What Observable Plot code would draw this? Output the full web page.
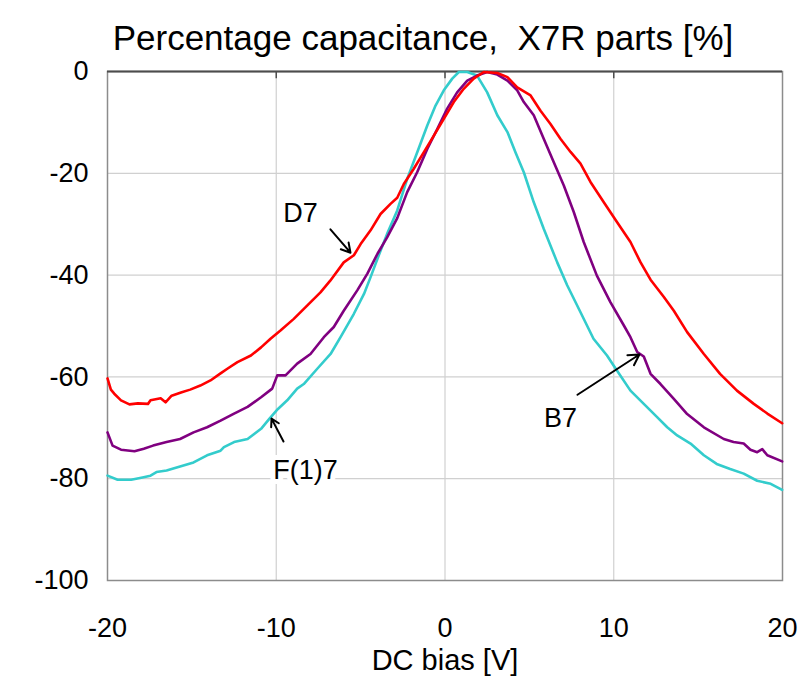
<!DOCTYPE html>
<html>
<head>
<meta charset="utf-8">
<script src="https://cdn.jsdelivr.net/npm/d3@7"></script>
<script src="https://cdn.jsdelivr.net/npm/@observablehq/plot@0.6"></script>
<style>
  html, body { margin: 0; padding: 0; background: white; }
</style>
</head>
<body>
<div id="chart"></div>
<script>
const titleText = "Percentage capacitance,  X7R parts [%]";
const xLabel = "DC bias [V]";
const xTicks = [-20, -10, 0, 10, 20];
const yTicks = [0, -20, -40, -60, -80, -100];

// D7 (red)
const d7X = [-20, -19.8, -19.6, -19.2, -18.7, -18.2, -17.6, -17.45, -16.85, -16.56, -16.2, -15.6, -15.1, -14.5, -13.9, -13.3, -12.9, -12.3, -11.5, -10.9, -10.34, -9.75, -8.96, -8.17, -7.38, -6.8, -6.0, -5.4, -5.0, -4.41, -3.82, -3.23, -2.83, -2.44, -1.85, -1.26, -0.66, -0.07, 0.52, 1.11, 1.7, 2.3, 3.1, 3.7, 4.28, 5.07, 5.66, 6.25, 6.84, 7.44, 8.03, 8.62, 9.41, 10.2, 10.99, 11.59, 12.18, 12.97, 13.56, 14.35, 15.34, 16.3, 17.3, 18.3, 19.1, 19.98];
const d7Y = [-60.3, -62.5, -63.3, -64.6, -65.4, -65.2, -65.3, -64.6, -64.2, -65, -63.7, -63, -62.5, -61.7, -60.7, -59.3, -58.4, -57.1, -55.8, -54.2, -52.5, -50.9, -48.6, -46, -43.4, -41.1, -37.5, -36.1, -33.9, -31.2, -28, -26, -24.8, -22.1, -19.1, -15.9, -12.6, -9.3, -6.0, -3.4, -1.4, -0.1, -0.3, -1.1, -3.1, -4.7, -7.7, -10.3, -13.2, -15.8, -18.1, -21.7, -25.7, -29.6, -33.5, -37.5, -40.9, -44.3, -47, -51.2, -55.5, -59.4, -62.7, -65.3, -67.2, -69.1];

// B7 (purple)
const b7X = [-20, -19.7, -19.2, -18.4, -17.85, -17.3, -16.5, -15.7, -14.9, -14.1, -13.3, -12.5, -11.7, -10.9, -10.24, -9.94, -9.45, -8.76, -7.97, -7.18, -6.59, -6.0, -5.2, -4.6, -4.0, -3.43, -2.83, -2.24, -1.65, -1.05, -0.46, 0.13, 0.72, 1.32, 1.9, 2.5, 3.1, 3.7, 4.28, 4.67, 5.26, 5.85, 6.44, 7.04, 7.63, 8.22, 9.0, 9.8, 10.6, 10.99, 11.39, 11.78, 12.18, 12.77, 13.56, 14.35, 15.34, 16.52, 17.1, 17.7, 18.1, 18.5, 18.8, 19.1, 19.98];
const b7Y = [-70.9, -73.5, -74.3, -74.6, -74.1, -73.5, -72.8, -72.2, -70.9, -69.9, -68.6, -67.2, -65.9, -64, -62.3, -59.7, -59.7, -57.4, -55.5, -52.2, -50.2, -47, -43, -39.7, -35.8, -32.6, -28.8, -23.7, -19.8, -15.2, -11.3, -7.3, -4.1, -1.8, -0.8, -0.1, -0.6, -1.8, -3.7, -6.0, -8.6, -13.2, -17.8, -22.4, -27.6, -33.5, -40.1, -45.3, -49.9, -52.2, -55.1, -56, -59.4, -61.4, -64.3, -67.3, -69.9, -72.2, -72.8, -73.1, -74.3, -74.8, -74.2, -75.4, -76.6];

// F(1)7 (cyan)
const f7X = [-20, -19.4, -18.6, -18.0, -17.45, -17.1, -16.5, -15.7, -14.9, -14.1, -13.3, -13.1, -12.5, -11.7, -10.9, -10.4, -9.9, -9.35, -8.76, -8.37, -7.57, -6.78, -6.19, -5.4, -4.8, -4.41, -3.82, -3.43, -2.83, -2.24, -1.65, -1.05, -0.56, -0.07, 0.43, 0.82, 1.32, 1.9, 2.5, 3.1, 3.7, 4.18, 4.67, 5.26, 5.85, 6.65, 7.24, 8.03, 8.8, 9.6, 10.0, 10.99, 11.78, 12.57, 13.17, 13.76, 14.55, 15.34, 16.1, 16.9, 17.7, 18.5, 19.3, 19.98];
const f7Y = [-79.4, -80.2, -80.2, -79.8, -79.4, -78.7, -78.4, -77.6, -76.8, -75.4, -74.5, -73.8, -72.8, -72.2, -70.2, -68.2, -66.3, -64.6, -62.3, -61.4, -58.4, -55.5, -52.2, -47.6, -43.7, -40.4, -35.2, -31.9, -27.3, -21.1, -15.9, -10.6, -6.7, -3.7, -1.4, -0.1, -0.1, -0.8, -4.1, -8.6, -11.9, -15.9, -19.8, -25.7, -30.9, -37.5, -42, -47.3, -52.5, -55.8, -57.8, -62.7, -65.3, -67.9, -69.9, -71.5, -73.1, -75.4, -77.1, -78.1, -79, -80.4, -81, -82.2];

// Annotations
const labels = [
  {name: "D7", x: -8.56, y: -27.9},
  {name: "F(1)7", x: -8.27, y: -78.4},
  {name: "B7", x: 6.84, y: -68.2}
];
const arrows = [
  {x1: -6.79, y1: -31.0, x2: -5.6, y2: -35.6},
  {x1: -9.57, y1: -72.7, x2: -10.28, y2: -68.2},
  {x1: 7.85, y1: -63.5, x2: 11.52, y2: -55.6}
];

const toRows = (xs, ys) => xs.map((x, i) => ({x, y: ys[i]}));
const d7 = toRows(d7X, d7Y);
const b7 = toRows(b7X, b7Y);
const f7 = toRows(f7X, f7Y);

const font = "Arial, 'Liberation Sans', sans-serif";

const chart = Plot.plot({
  width: 811,
  height: 681,
  marginTop: 71,
  marginLeft: 107,
  marginRight: 29,
  marginBottom: 101,
  style: {fontFamily: font, fontSize: "27px", color: "black", background: "white"},
  x: {type: "linear", domain: [-20, 20]},
  y: {type: "linear", domain: [-100, 0]},
  marks: [
    Plot.gridX([-10, 0, 10], {stroke: "#d0d0d0", strokeOpacity: 1, strokeWidth: 1.2}),
    Plot.gridY([-20, -40, -60, -80], {stroke: "#d0d0d0", strokeOpacity: 1, strokeWidth: 1.2}),
    Plot.frame({stroke: "#8c8c8c", strokeWidth: 1.5}),
    Plot.ruleY([0], {stroke: "#4d4d4d", strokeWidth: 2}),
    Plot.ruleX([-10, 0, 10], {y1: 0, y2: -1.4, stroke: "#4d4d4d", strokeWidth: 1.5}),
    Plot.line(f7, {x: "x", y: "y", stroke: "#33cccc", strokeWidth: 2.6}),
    Plot.line(b7, {x: "x", y: "y", stroke: "#800080", strokeWidth: 2.6}),
    Plot.line(d7, {x: "x", y: "y", stroke: "#ff0000", strokeWidth: 2.6}),
    Plot.arrow(arrows, {x1: "x1", y1: "y1", x2: "x2", y2: "y2", stroke: "black", strokeWidth: 2, headLength: 9}),
    Plot.text(labels, {x: "x", y: "y", text: "name", fontSize: 27, fill: "black", stroke: "white", strokeWidth: 10, paintOrder: "stroke"}),
    Plot.axisX(xTicks, {tickSize: 0, tickPadding: 37, fontSize: 27, label: null, tickFormat: d => String(d)}),
    Plot.axisY(yTicks, {tickSize: 0, tickPadding: 19, fontSize: 27, label: null, tickFormat: d => String(d)}),
    Plot.text([titleText], {frameAnchor: "top", dx: -22, dy: -46, fontSize: 35, fill: "black"}),
    Plot.text([xLabel], {frameAnchor: "bottom", dy: 89, fontSize: 29, fill: "black"})
  ]
});

document.getElementById("chart").appendChild(chart);
</script>
</body>
</html>
